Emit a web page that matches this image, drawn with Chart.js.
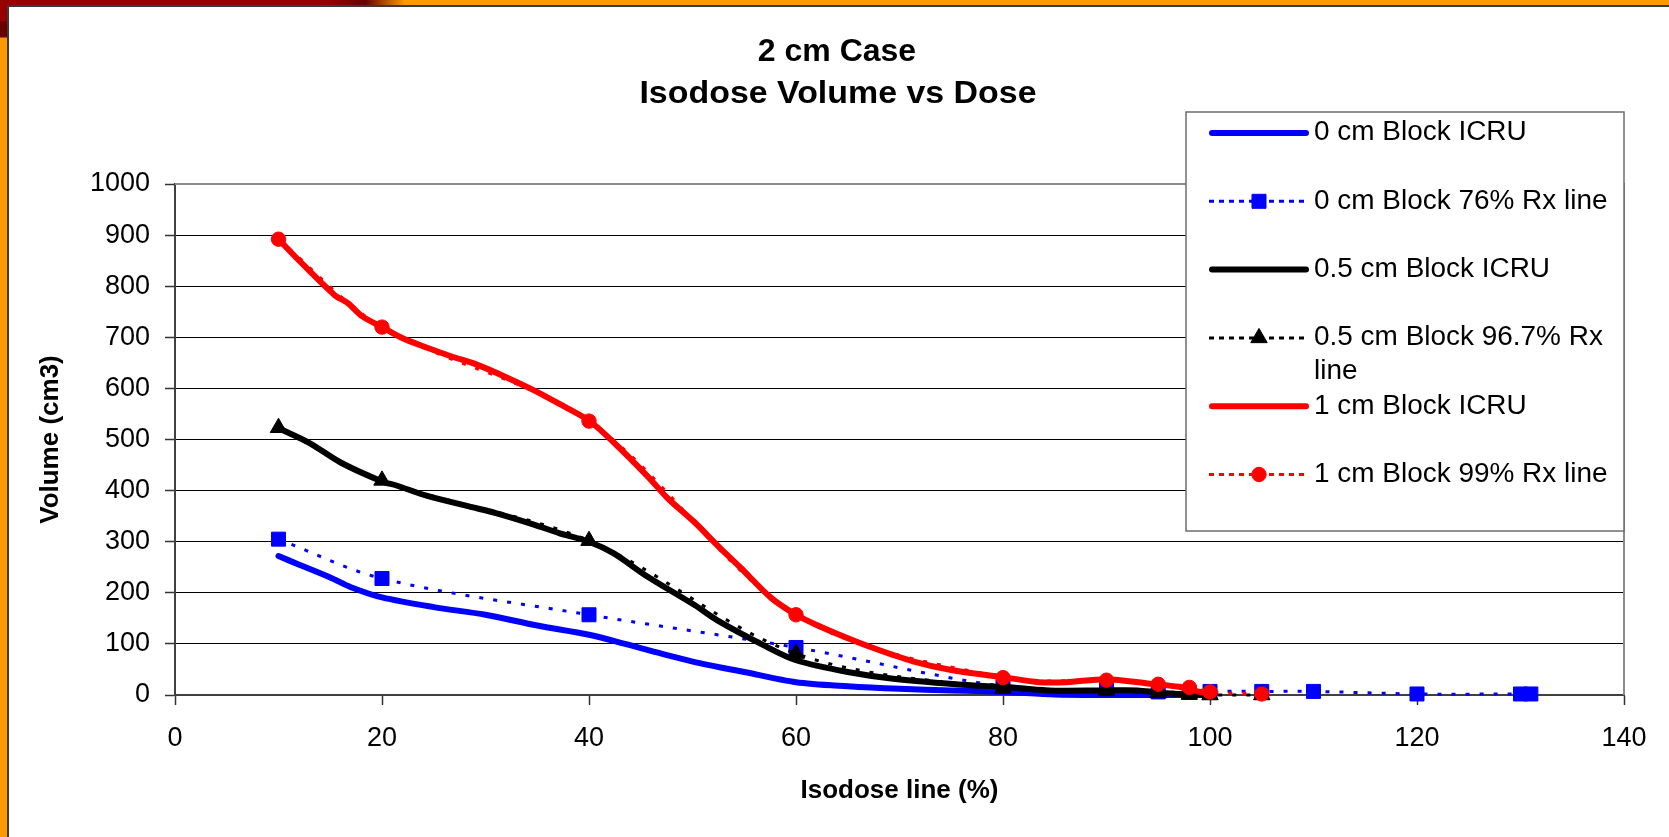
<!DOCTYPE html>
<html>
<head>
<meta charset="utf-8">
<script src="https://cdn.jsdelivr.net/npm/chart.js@4.4.1/dist/chart.umd.min.js"></script>
<style>
html,body{margin:0;padding:0;background:#fff;}
#page{position:relative;width:1669px;height:837px;overflow:hidden;background:#fff;}
#stripTop{position:absolute;left:0;top:0;width:1669px;height:5px;
  background:linear-gradient(90deg,#960000 0px,#960000 330px,#660000 365px,#ff9900 405px,#ff9900 100%);}
#stripLeft{position:absolute;left:0;top:0;width:7px;height:837px;
  background:linear-gradient(180deg,#960000 0px,#960000 21px,#6a0000 22px,#6a0000 37px,#ff9900 38px,#ff9900 100%);}
#frameT{position:absolute;left:7px;top:5px;width:1662px;height:1.5px;background:#3a3a3a;}
#frameL{position:absolute;left:7px;top:5px;width:1.5px;height:832px;background:#3a3a3a;}
#wrap{position:absolute;left:0;top:0;width:1669px;height:837px;}
canvas{display:block;}
</style>
</head>
<body>
<div id="page">
  <div id="stripTop"></div>
  <div id="stripLeft"></div>
  <div id="frameT"></div>
  <div id="frameL"></div>
  <div id="wrap"><canvas id="c" width="1669" height="837" style="width:1669px;height:837px"></canvas></div>
</div>
<script>
// ---------------- data ----------------
const titleLines = ['2 cm Case', 'Isodose Volume vs Dose'];
const xAxisTitle = 'Isodose line (%)';
const yAxisTitle = 'Volume (cm3)';
const xTickValues = [0, 20, 40, 60, 80, 100, 120, 140];
const yTickValues = [0, 100, 200, 300, 400, 500, 600, 700, 800, 900, 1000];

const seriesLabels = [
  '0 cm Block ICRU',
  '0 cm Block 76% Rx line',
  '0.5 cm Block ICRU',
  '0.5 cm Block 96.7% Rx line',
  '1 cm Block ICRU',
  '1 cm Block 99% Rx line'
];

// 0 cm Block ICRU
const blueIcruX = [10, 12, 15, 17, 20, 25, 30, 35, 40, 43.5, 47, 51, 55, 60, 65, 70, 75, 80, 85, 90, 95, 100];
const blueIcruY = [272, 255, 230, 211, 191, 172, 157, 136, 118, 100, 81, 61, 45, 25, 17, 12, 9, 6, 1, 0, 0, 0];

// 0 cm Block 76% Rx line
const blueRxX = [10, 20, 40, 60, 80, 90, 95, 98, 100, 105, 110, 120, 130, 131];
const blueRxY = [305, 228, 157, 93, 17, 10, 6, 5, 7, 7, 7, 2, 2, 2];

// 0.5 cm Block ICRU
const blackIcruX = [10, 13, 16, 20, 21.4, 24.3, 28.4, 31, 34.6, 37.1, 40, 42.4, 45.4, 50.2, 52.4, 56.9, 60, 65, 69.4, 76.9, 80, 84.3, 89.8, 93, 95, 98, 100];
const blackIcruY = [522, 493, 455, 418, 410, 390, 369, 356, 334, 317, 300, 277, 235, 176, 146, 97, 68, 45, 32, 19, 16, 9, 9, 9, 5, 1, 0];

// 0.5 cm Block 96.7% Rx line
const blackRxX = [10, 20, 40, 60, 80, 90, 95, 98, 100, 105];
const blackRxY = [523, 420, 302, 81, 13, 8, 4, 1, 0, 0];

// 1 cm Block ICRU
const redIcruX = [10, 12, 15.4, 16.7, 18.1, 20, 22, 24.3, 26.8, 29.1, 32, 34.6, 37.1, 40, 42.3, 45.8, 47.6, 50.2, 52.4, 54.6, 57.6, 60, 62, 64.3, 67.6, 71.3, 75, 80, 83.5, 86.1, 90, 94.2, 97, 99, 100];
const redIcruY = [892, 850, 783, 767, 741, 720, 698, 680, 662, 647, 622, 597, 570, 537, 496, 425, 385, 338, 293, 250, 190, 157, 137, 117, 91, 66, 49, 35, 25, 25, 31, 22, 16, 6, 2];

// 1 cm Block 99% Rx line
const redRxX = [10, 20, 40, 60, 80, 90, 95, 98, 100, 105];
const redRxY = [892, 720, 536, 157, 34, 29, 21, 15, 6, 2];

// ---------------- build chart ----------------
const pts = (xs, ys) => xs.map((x, i) => ({x: x, y: ys[i]}));

const FONT = '"Liberation Sans", Arial, Helvetica, sans-serif';
Chart.defaults.font.family = FONT;
Chart.defaults.color = '#000';

function solid(label, color, xs, ys, order) {
  return {
    label: label, data: pts(xs, ys), borderColor: color, backgroundColor: color,
    borderWidth: 6, pointRadius: 0, pointHoverRadius: 0, tension: 0.3,
    borderCapStyle: 'round', borderJoinStyle: 'round', clip: false, order: order
  };
}
function dotted(label, color, xs, ys, style, radius, order) {
  return {
    label: label, data: pts(xs, ys), borderColor: color, backgroundColor: color,
    borderWidth: 3, borderDash: [4, 10], legendDash: [5, 5], tension: 0.33,
    pointStyle: style, pointRadius: radius, pointHoverRadius: radius,
    pointBackgroundColor: color, pointBorderColor: color, pointBorderWidth: 1,
    clip: false, order: order
  };
}

const datasets = [
  solid(seriesLabels[0], '#0000ff', blueIcruX, blueIcruY, 6),
  dotted(seriesLabels[1], '#0000ff', blueRxX, blueRxY, 'rect', 9.9, 5),
  solid(seriesLabels[2], '#000000', blackIcruX, blackIcruY, 4),
  dotted(seriesLabels[3], '#000000', blackRxX, blackRxY, 'triangle', 9.5, 3),
  solid(seriesLabels[4], '#ff0000', redIcruX, redIcruY, 2),
  dotted(seriesLabels[5], '#ff0000', redRxX, redRxY, 'circle', 7.2, 1)
];

function drawMarker(ctx, style, r, x, y) {
  if (Chart.helpers && Chart.helpers.drawPoint) {
    Chart.helpers.drawPoint(ctx, {pointStyle: style, radius: r, borderWidth: 1, rotation: 0}, x, y);
    return;
  }
  ctx.beginPath();
  ctx.arc(x, y, r, 0, Math.PI * 2);
  ctx.fill();
}

function stretchedText(ctx, text, x, y, sx) {
  ctx.save();
  ctx.translate(x, y);
  ctx.scale(sx, 1);
  ctx.fillText(text, 0, 0);
  ctx.restore();
}

const decorPlugin = {
  id: 'decor',
  afterDraw(chart) {
    const ctx = chart.ctx;
    const a = chart.chartArea;
    ctx.save();
    // plot area border (top and right)
    ctx.strokeStyle = '#8a8a8a';
    ctx.lineWidth = 2;
    ctx.beginPath();
    ctx.moveTo(a.left, a.top);
    ctx.lineTo(a.right, a.top);
    ctx.lineTo(a.right, a.bottom);
    ctx.stroke();

    // title
    ctx.fillStyle = '#000';
    ctx.textAlign = 'center';
    ctx.textBaseline = 'alphabetic';
    ctx.font = 'bold 32px ' + FONT;
    stretchedText(ctx, titleLines[0], 837, 61, 1.0);
    stretchedText(ctx, titleLines[1], 838, 103, 1.06);

    // legend
    const L = {x0: 1186, y0: 112, x1: 1624, y1: 531, firstRow: 133, rowGap: 68.3,
               s0: 1209, s1: 1309, tx: 1314, lineH: 34, sx: 1.035};
    ctx.fillStyle = '#fff';
    ctx.fillRect(L.x0, L.y0, L.x1 - L.x0, L.y1 - L.y0);
    ctx.strokeStyle = '#6e6e6e';
    ctx.lineWidth = 1.5;
    ctx.strokeRect(L.x0, L.y0, L.x1 - L.x0, L.y1 - L.y0);
    ctx.font = '27px ' + FONT;
    ctx.textAlign = 'left';
    ctx.textBaseline = 'middle';
    const maxW = (L.x1 - L.tx - 8) / L.sx;
    chart.data.datasets.forEach((ds, i) => {
      const y = L.firstRow + i * L.rowGap;
      ctx.save();
      ctx.strokeStyle = ds.borderColor;
      ctx.lineWidth = ds.borderWidth;
      if (ds.borderDash) { ctx.setLineDash(ds.legendDash || ds.borderDash); ctx.lineCap = 'butt'; }
      else { ctx.setLineDash([]); ctx.lineCap = 'round'; }
      const inset = ds.borderDash ? 0 : 3;
      ctx.beginPath();
      ctx.moveTo(L.s0 + inset, y);
      ctx.lineTo(L.s1 - inset, y);
      ctx.stroke();
      ctx.setLineDash([]);
      if (ds.pointRadius > 0) {
        ctx.fillStyle = ds.pointBackgroundColor;
        ctx.strokeStyle = ds.pointBorderColor;
        ctx.lineWidth = 1;
        drawMarker(ctx, ds.pointStyle, ds.pointRadius, (L.s0 + L.s1) / 2, y);
      }
      ctx.restore();
      // wrapped label text
      const words = ds.label.split(' ');
      const lines = [];
      let cur = '';
      words.forEach(w => {
        const test = cur ? cur + ' ' + w : w;
        if (ctx.measureText(test).width > maxW && cur) { lines.push(cur); cur = w; }
        else cur = test;
      });
      if (cur) lines.push(cur);
      ctx.fillStyle = '#000';
      lines.forEach((t, k) => stretchedText(ctx, t, L.tx, y + k * L.lineH, L.sx));
    });
    ctx.restore();
  }
};

new Chart(document.getElementById('c'), {
  type: 'line',
  data: {datasets: datasets},
  plugins: [decorPlugin],
  options: {
    responsive: false,
    animation: false,
    devicePixelRatio: 1,
    parsing: true,
    layout: {padding: {left: 0, top: 184, right: 45, bottom: 0}},
    plugins: {legend: {display: false}, title: {display: false}, tooltip: {enabled: false}},
    scales: {
      x: {
        type: 'linear', min: 0, max: 140,
        afterBuildTicks: s => { s.ticks = xTickValues.map(v => ({value: v})); },
        afterFit: s => { s.height = 142; },
        grid: {drawOnChartArea: false, drawTicks: true, tickLength: 10, tickColor: '#333', tickWidth: 1.5},
        border: {display: true, color: '#404040', width: 2},
        ticks: {color: '#000', font: {size: 27}, padding: 17, maxRotation: 0, autoSkip: false,
                callback: v => String(v)},
        title: {display: true, text: xAxisTitle, color: '#000', font: {size: 26, weight: 'bold'},
                padding: {top: 0, bottom: 31}}
      },
      y: {
        type: 'linear', min: 0, max: 1000,
        afterBuildTicks: s => { s.ticks = yTickValues.map(v => ({value: v})); },
        afterFit: s => { s.width = 175; },
        grid: {color: '#000', lineWidth: 1, drawTicks: true, tickLength: 10, tickColor: '#333', tickWidth: 1.5},
        border: {display: true, color: '#404040', width: 2},
        ticks: {color: '#000', font: {size: 27}, padding: 15, autoSkip: false, callback: v => String(v)},
        title: {display: true, text: yAxisTitle, color: '#000', font: {size: 26, weight: 'bold'},
                padding: {top: 35, bottom: 0}}
      }
    }
  }
});
</script>
</body>
</html>
